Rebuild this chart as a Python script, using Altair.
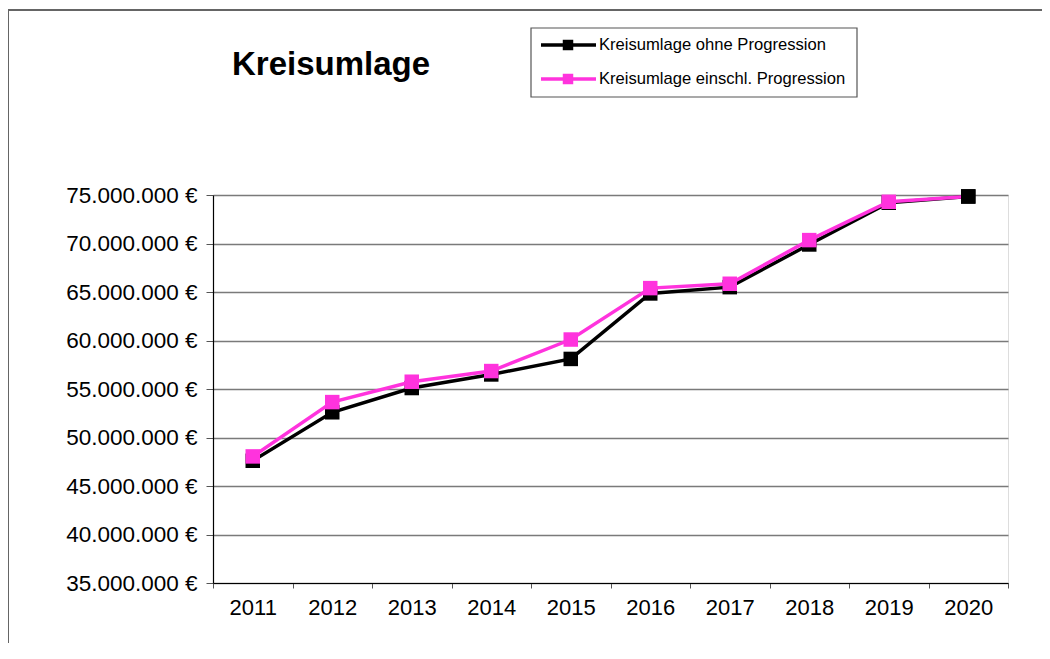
import altair as alt
import pandas as pd

years = ["2011", "2012", "2013", "2014", "2015", "2016", "2017", "2018", "2019", "2020"]
ohne = [47600000, 52600000, 55100000, 56500000, 58100000, 64850000, 65500000, 69900000, 74200000, 74850000]
einschl = [48050000, 53650000, 55750000, 56850000, 60100000, 65400000, 65850000, 70350000, 74300000, 74850000]
series_names = ["Kreisumlage ohne Progression", "Kreisumlage einschl. Progression"]
series_colors = ["#000000", "#FF33DD"]
y_ticks = [35000000, 40000000, 45000000, 50000000, 55000000, 60000000, 65000000, 70000000, 75000000]
title_text = "Kreisumlage"

df = pd.DataFrame({
    "Jahr": years * 2,
    "Wert": ohne + einschl,
    "Reihe": [series_names[0]] * len(years) + [series_names[1]] * len(years),
    "Marker": [True] * len(years) + [True] * (len(years) - 1) + [False],
})

FONT = "Liberation Sans"
W, H = 795, 388

x_enc = alt.X("Jahr:O", sort=years, title=None,
              scale=alt.Scale(type="band", paddingInner=0, paddingOuter=0),
              axis=alt.Axis(labelAngle=0, tickBand="extent", tickSize=5, tickColor="#555555",
                            domainColor="#000000", domainWidth=1.2, labelFontSize=22,
                            labelFont=FONT, labelColor="#000000", labelPadding=9, grid=False))
y_enc = alt.Y("Wert:Q", title=None,
              scale=alt.Scale(domain=[35000000, 75000000], nice=False, zero=False),
              axis=alt.Axis(values=y_ticks, tickSize=7, tickColor="#555555",
                            domainColor="#000000", domainWidth=1.2,
                            gridColor="#7a7a7a", gridWidth=1.3,
                            labelFontSize=22.5, labelFont=FONT, labelColor="#000000", labelPadding=9,
                            labelExpr="format(datum.value / 1000000, 'd') + '.000.000 €'"))
color_enc = alt.Color("Reihe:N", scale=alt.Scale(domain=series_names, range=series_colors), legend=None)

base = alt.Chart(df).encode(x=x_enc, y=y_enc, color=color_enc)

black_line = base.transform_filter(alt.datum.Reihe == series_names[0]).mark_line(strokeWidth=3.5)
black_pts = base.transform_filter(alt.datum.Reihe == series_names[0]).mark_point(
    shape="square", size=210, filled=True, opacity=1)
pink_line = base.transform_filter(alt.datum.Reihe == series_names[1]).mark_line(strokeWidth=3.5)
pink_pts = base.transform_filter(
    (alt.datum.Reihe == series_names[1]) & alt.datum.Marker).mark_point(
    shape="square", size=210, filled=True, opacity=1)
last_black = base.transform_filter(
    (alt.datum.Reihe == series_names[0]) & (alt.datum.Jahr == years[-1])).mark_point(
    shape="square", size=210, filled=True, opacity=1)

# decorations (frame, title, legend)
frame_top = alt.Chart(df).mark_rule(color="#666666", strokeWidth=1.5).encode(
    x=alt.value(-205), x2=alt.value(840), y=alt.value(-185))
frame_left = alt.Chart(df).mark_rule(color="#666666", strokeWidth=1.5).encode(
    x=alt.value(-205), y=alt.value(-185), y2=alt.value(480))
title = alt.Chart(pd.DataFrame({"t": [title_text]})).mark_text(
    align="left", baseline="middle", fontSize=33, fontWeight="bold", font=FONT, color="#000000"
).encode(text="t:N", x=alt.value(19), y=alt.value(-130))

legend_box = alt.Chart(pd.DataFrame({"a": [0]})).mark_rect(
    fill="white", stroke="#555555", strokeWidth=1.2).encode(
    x=alt.value(318), x2=alt.value(644), y=alt.value(-167), y2=alt.value(-98))
legend_layers = [legend_box]
for i, (name, col) in enumerate(zip(series_names, series_colors)):
    yy = -150 + i * 34
    d = pd.DataFrame({"n": [name]})
    legend_layers.append(alt.Chart(d).mark_rule(color=col, strokeWidth=3.5).encode(
        x=alt.value(328), x2=alt.value(383), y=alt.value(yy)))
    legend_layers.append(alt.Chart(d).mark_point(shape="square", size=110, filled=True,
                                                  color=col, opacity=1).encode(
        x=alt.value(355), y=alt.value(yy)))
    legend_layers.append(alt.Chart(d).mark_text(align="left", baseline="middle", fontSize=16.6,
                                                 font=FONT, color="#000000").encode(
        text="n:N", x=alt.value(386), y=alt.value(yy)))

chart = alt.layer(
    black_line, black_pts, pink_line, pink_pts, last_black,
    frame_top, frame_left, title, *legend_layers
).properties(
    width=W, height=H,
    autosize=alt.AutoSizeParams(type="none"),
    padding={"left": 205, "top": 187, "right": 34, "bottom": 60},
).configure_view(stroke="#999999", strokeWidth=1.3).configure(background="white")

chart.save("out.html", embed_options={"renderer": "svg", "actions": False})
